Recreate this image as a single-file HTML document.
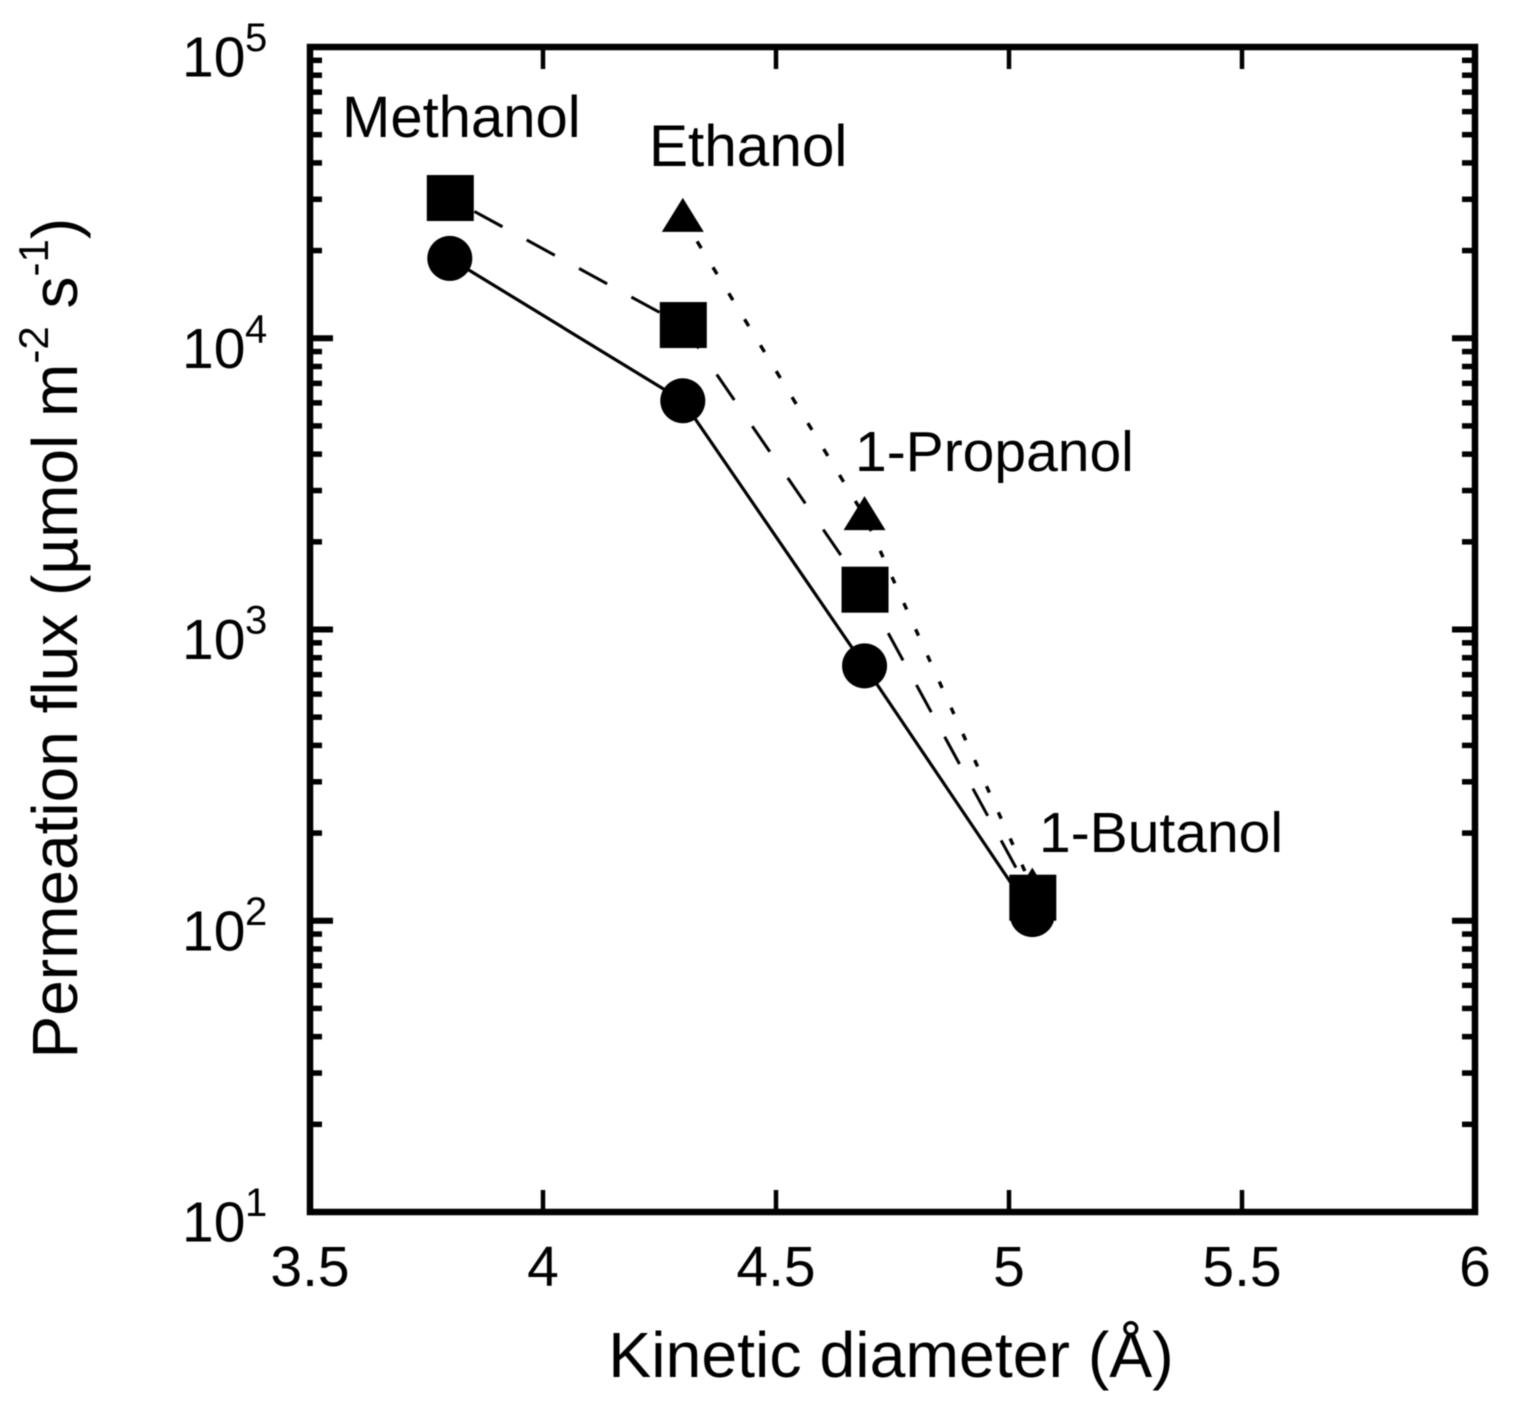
<!DOCTYPE html>
<html lang="en">
<head>
<meta charset="utf-8">
<title>Permeation flux vs kinetic diameter</title>
<style>
  html, body { margin: 0; padding: 0; background: #fff; }
  svg { display: block; }
  text { font-family: "Liberation Sans", Arial, sans-serif; fill: #000; }
  #plot-root { filter: blur(0.55px); }
</style>
</head>
<body>
<svg id="chart" xmlns="http://www.w3.org/2000/svg" width="1513" height="1408" viewBox="0 0 1513 1408">
  <rect x="0" y="0" width="1513" height="1408" fill="#fff"/>
  <g id="plot-root">
    <g id="series-layer"></g>
    <g id="tick-layer"></g>
    <rect x="310" y="47" width="1165" height="1165" fill="none" stroke="#000" stroke-width="6.5"/>
    <g id="tick-label-layer"></g>
    <text x="891" y="1377" font-size="64.4" text-anchor="middle">Kinetic diameter (Å)</text>
    <text transform="translate(77 1058.5) rotate(-90)" font-size="64">Permeation flux (µmol m<tspan font-size="42" dy="-29">-2</tspan><tspan dy="29"> s</tspan><tspan font-size="42" dy="-29">-1</tspan><tspan dy="29">)</tspan></text>
    <text x="342" y="137" font-size="58">Methanol</text>
    <text x="649" y="166" font-size="58.5">Ethanol</text>
    <text x="855" y="471" font-size="57">1-Propanol</text>
    <text x="1039" y="852" font-size="57">1-Butanol</text>
  </g>
</svg>
<script>
// Chart data
const circleDiameters = [3.8, 4.3, 4.69, 5.05];
const circleFlux = [18800, 6100, 750, 105];
const squareDiameters = [3.8, 4.3, 4.69, 5.05];
const squareFlux = [30300, 11100, 1370, 120];
const triangleDiameters = [4.3, 4.69, 5.05];
const triangleFlux = [25900, 2450, 130];
const xTickValues = [3.5, 4, 4.5, 5, 5.5, 6];
const xTickLabels = ["3.5", "4", "4.5", "5", "5.5", "6"];
const yDecadeExponents = [1, 2, 3, 4, 5];
const yMinorMultipliers = [2, 3, 4, 5, 6, 7, 8, 9];

// Axis functions
function xScale(v) { return 310 + (v - 3.5) * 466; }
function yScale(v) { return 1212 - (Math.log10(v) - 1) * 291.25; }

const NS = 'http://www.w3.org/2000/svg';
const seriesLayer = document.getElementById('series-layer');
const tickLayer = document.getElementById('tick-layer');
const labelLayer = document.getElementById('tick-label-layer');

function make(tag, attrs, parent) {
  const el = document.createElementNS(NS, tag);
  for (const k in attrs) el.setAttribute(k, attrs[k]);
  parent.appendChild(el);
  return el;
}
function linePoints(xs, ys) {
  return xs.map(function (x, i) { return xScale(x) + ',' + yScale(ys[i]); }).join(' ');
}

// Series lines
const solidLine = make('polyline', { points: linePoints(circleDiameters, circleFlux), fill: 'none', stroke: '#000', 'stroke-width': 3.2 }, seriesLayer);



// Each dashed / dotted segment restarts its dash pattern at the data point
const squareDashStyles = [['32 27.6', 31.6], ['31 31.7', 2.7], ['31 28', 9.5]];
const triangleDotStyles = [['8 22.4', 2.9], ['7 21.7', 19.4]];

squareFlux.slice(1).forEach(function (_, i) {
  const seg = make('line', {
    x1: xScale(squareDiameters[i]), y1: yScale(squareFlux[i]),
    x2: xScale(squareDiameters[i + 1]), y2: yScale(squareFlux[i + 1]),
    stroke: '#000', 'stroke-width': 3,
    'stroke-dasharray': squareDashStyles[i][0], 'stroke-dashoffset': squareDashStyles[i][1]
  }, seriesLayer);
  
  
});
triangleFlux.slice(1).forEach(function (_, i) {
  const seg = make('line', {
    x1: xScale(triangleDiameters[i]), y1: yScale(triangleFlux[i]),
    x2: xScale(triangleDiameters[i + 1]), y2: yScale(triangleFlux[i + 1]),
    stroke: '#000', 'stroke-width': 3.4,
    'stroke-dasharray': triangleDotStyles[i][0], 'stroke-dashoffset': triangleDotStyles[i][1]
  }, seriesLayer);
  
  
});

// Markers
circleDiameters.forEach(function (d, i) {
  const m = make('circle', { cx: xScale(d), cy: yScale(circleFlux[i]), r: 22.5, fill: '#000' }, seriesLayer);
  
  
});
triangleDiameters.forEach(function (d, i) {
  const cx = xScale(d), cy = yScale(triangleFlux[i]);
  const m = make('polygon', { points: (cx) + ',' + (cy - 20) + ' ' + (cx + 21) + ',' + (cy + 14) + ' ' + (cx - 21) + ',' + (cy + 14), fill: '#000' }, seriesLayer);
  
  
});
squareDiameters.forEach(function (d, i) {
  const m = make('rect', { x: xScale(d) - 23, y: yScale(squareFlux[i]) - 23, width: 47, height: 46, fill: '#000' }, seriesLayer);
  
  
});

// X ticks and labels
xTickValues.forEach(function (v, i) {
  const x = xScale(v);
  if (i > 0 && i < xTickValues.length - 1) {
    const bottomTick = make('line', { x1: x, x2: x, y1: 1212, y2: 1190, stroke: '#000', 'stroke-width': 4.5 }, tickLayer);
    
    
    const topTick = make('line', { x1: x, x2: x, y1: 47, y2: 69, stroke: '#000', 'stroke-width': 4.5 }, tickLayer);
    
    
  }
  const label = make('text', { x: x, y: 1286, 'font-size': 57, 'text-anchor': 'middle' }, labelLayer);
  label.textContent = xTickLabels[i];
  
  
});

// Y ticks and labels
yDecadeExponents.forEach(function (e) {
  const base = Math.pow(10, e);
  const y = yScale(base);
  if (e > yDecadeExponents[0] && e < yDecadeExponents[yDecadeExponents.length - 1]) {
    const leftMajor = make('line', { x1: 310, x2: 333, y1: y, y2: y, stroke: '#000', 'stroke-width': 6 }, tickLayer);
    
    
    const rightMajor = make('line', { x1: 1475, x2: 1452, y1: y, y2: y, stroke: '#000', 'stroke-width': 6 }, tickLayer);
    
    
  }
  if (e < yDecadeExponents[yDecadeExponents.length - 1]) {
    yMinorMultipliers.forEach(function (mult) {
      const my = yScale(mult * base);
      const leftMinor = make('line', { x1: 310, x2: 322, y1: my, y2: my, stroke: '#000', 'stroke-width': 5.5 }, tickLayer);
      
      
      const rightMinor = make('line', { x1: 1475, x2: 1462, y1: my, y2: my, stroke: '#000', 'stroke-width': 5.5 }, tickLayer);
      
      
    });
  }
  const mantissa = make('text', { x: 182, y: y + 29.5, 'font-size': 57 }, labelLayer);
  mantissa.textContent = '10';
  
  
  const exponent = make('text', { x: 245, y: y + 4, 'font-size': 40 }, labelLayer);
  exponent.textContent = String(e);
  
  
});
</script>
</body>
</html>
